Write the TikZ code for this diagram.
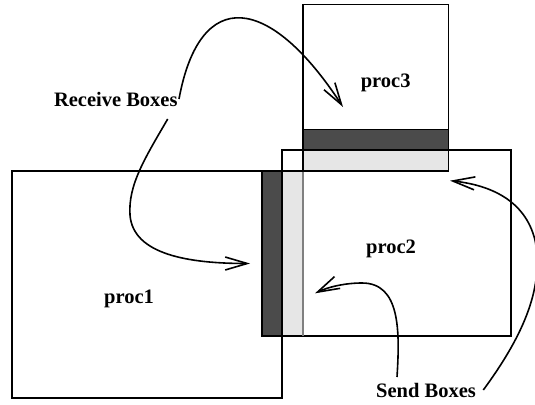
\documentclass[tikz,border=0pt]{standalone}
\usepackage{fontspec}
\setmainfont{Liberation Serif}
\usetikzlibrary{arrows.meta}
\definecolor{banddark}{HTML}{4B4B4B}
\definecolor{bandlight}{HTML}{E6E6E6}
\tikzset{
  boxline/.style={draw=black, line width=1.6pt},
  lbl/.style={font=\fontsize{20.5}{24}\selectfont\bfseries, inner sep=0pt, anchor=base},
  pointer/.style={line width=1.6pt, -{Straight Barb[length=22pt,width=13pt,line width=1.6pt]}},
}
\begin{document}
\begin{tikzpicture}[x=1pt,y=-1pt]
  \useasboundingbox (0,0) rectangle (535,404);

  % shaded boundary strips
  \fill[banddark]  (261.7,170.7) rectangle (281.7,336);
  \fill[bandlight] (281.7,170.7) rectangle (302.7,336);
  \fill[banddark]  (302.7,129.3) rectangle (448.3,150);
  \fill[bandlight] (302.7,150)   rectangle (448.3,170.7);

  % process boxes
  \draw[boxline] (12,170.7) rectangle (281.7,398);
  \draw[boxline] (281.7,150) rectangle (511,336);
  \draw[boxline] (302.7,4.5) rectangle (448.3,170.7);
  \draw[boxline] (302.7,129.3) -- (448.3,129.3);
  \draw[boxline] (261.7,170.7) rectangle (281.7,336);
  \draw[boxline] (281.7,170.7) -- (302.7,170.7);
  \draw[line width=1.6pt, draw=gray] (302.7,171.5) -- (302.7,336);

  % labels
  \node[lbl] (p1) at (129,303.3) {proc1};
  \node[lbl] (p2) at (391,253.3) {proc2};
  \node[lbl] (p3) at (385.7,87.3) {proc3};
  \node[lbl] (recv) at (115.8,106) {Receive Boxes};
  \node[lbl] (send) at (426,397.7) {Send Boxes};

  % arrow end points
  \coordinate (r1s) at (179,99);
  \coordinate (r1e) at (343,107);
  \coordinate (r2s) at (167.7,119);
  \coordinate (r2m) at (130,215);
  \coordinate (r2e) at (250,263.5);
  \coordinate (s1s) at (397,377);
  \coordinate (s1m) at (362,283);
  \coordinate (s1e) at (315,293.3);
  \coordinate (s2s) at (483.3,390);
  \coordinate (s2m) at (535,240);
  \coordinate (s2e) at (450,180.7);

  % receive pointers
  \draw[pointer] (r1s) .. controls (200,-15) and (270,-5) .. (r1e);
  \draw[pointer] (r2s) .. controls (145,158) and (128,185) .. (r2m)
                       .. controls (133,255) and (190,263.5) .. (r2e);

  % send pointers
  \draw[pointer] (s1s) .. controls (400,330) and (400,283) .. (s1m)
                       .. controls (345,283) and (328,287) .. (s1e);
  \draw[pointer] (s2s) .. controls (520,340) and (545,290) .. (s2m)
                       .. controls (525,200) and (490,185) .. (s2e);
\end{tikzpicture}
\end{document}
